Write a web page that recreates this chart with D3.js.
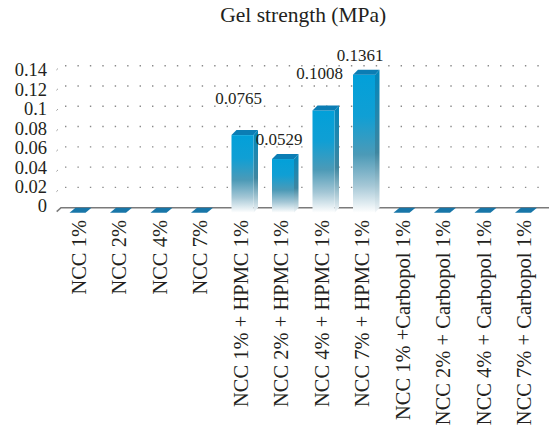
<!DOCTYPE html>
<html>
<head>
<meta charset="utf-8">
<script src="https://cdn.jsdelivr.net/npm/d3@7/dist/d3.min.js"></script>
<style>
  html, body { margin: 0; padding: 0; background: #fff; }
  svg { display: block; }
  text { font-family: "Liberation Serif", "Times New Roman", serif; fill: #231f20; }
</style>
</head>
<body>
<svg id="chart" width="549" height="432"></svg>
<script>
// Gel strength of the NCC formulations (MPa)
const categories = [
  "NCC 1%", "NCC 2%", "NCC 4%", "NCC 7%",
  "NCC 1% + HPMC 1%", "NCC 2% + HPMC 1%", "NCC 4% + HPMC 1%", "NCC 7% + HPMC 1%",
  "NCC 1% +Carbopol 1%", "NCC 2% + Carbopol 1%", "NCC 4% + Carbopol 1%", "NCC 7% + Carbopol 1%"
];
const gelStrength = [0, 0, 0, 0, 0.0765, 0.0529, 0.1008, 0.1361, 0, 0, 0, 0];
const valueLabels = ["", "", "", "", "0.0765", "0.0529", "0.1008", "0.1361", "", "", "", ""];
const yTicks = [0, 0.02, 0.04, 0.06, 0.08, 0.1, 0.12, 0.14];
const yTickLabels = ["0", "0.02", "0.04", "0.06", "0.08", "0.1", "0.12", "0.14"];
const chartTitle = "Gel strength (MPa)";

const W = 549, H = 432;
const svg = d3.select("#chart");

// back wall (grid plane) and depth offset of the pseudo-3D bars
const x = d3.scaleBand().domain(categories).range([60.25, 546.25]);
const y = d3.scaleLinear().domain([0, 0.14]).range([207.7, 65.7]);
const yLabel = d3.scaleLinear().domain([0, 0.14]).range([206, 70]);
const depthX = 5, depthY = 5;
const half = 11;

// gradient for the bar fronts
const defs = svg.append("defs");
const grad = defs.append("linearGradient").attr("id", "barFront")
  .attr("x1", 0).attr("y1", 0).attr("x2", 0).attr("y2", 1);
[["0%", "#02a0d9"], ["30%", "#109fd4"], ["58%", "#4c9ab7"], ["80%", "#a3c6d5"], ["100%", "#ffffff"]]
  .forEach(([o, c]) => grad.append("stop").attr("offset", o).attr("stop-color", c));
const gradSide = defs.append("linearGradient").attr("id", "barSide")
  .attr("x1", 0).attr("y1", 0).attr("x2", 0).attr("y2", 1);
[["0%", "#0186bb"], ["58%", "#3f86a0"], ["100%", "#f4f7f9"]]
  .forEach(([o, c]) => gradSide.append("stop").attr("offset", o).attr("stop-color", c));

// title
svg.append("text")
  .attr("x", (x.range()[0] + x.range()[1]) / 2)
  .attr("y", 22)
  .attr("text-anchor", "middle")
  .style("font-size", "21.5px")
  .text(chartTitle);

// dotted grid lines on the back wall
const grid = svg.append("g");
yTicks.filter(t => t > 0).forEach(t => {
  grid.append("line")
    .attr("x1", 65).attr("x2", W)
    .attr("y1", y(t)).attr("y2", y(t))
    .attr("stroke", "#8a8a8a")
    .attr("stroke-width", 1.4)
    .attr("stroke-dasharray", "1.4,11.03");
  // small mark on the left wall edge
  grid.append("line")
    .attr("x1", 56.5).attr("x2", 57.8)
    .attr("y1", y(t) + 4.2).attr("y2", y(t) + 3)
    .attr("stroke", "#8a8a8a").attr("stroke-width", 1);
});

// floor line
svg.append("path")
  .attr("d", `M56.7,${y(0) + 4}L${61},${y(0)}H${W}`)
  .attr("fill", "none")
  .attr("stroke", "#7a7a7a")
  .attr("stroke-width", 1.6);

// y tick labels
svg.append("g").selectAll("text")
  .data(yTicks)
  .join("text")
  .attr("x", 47)
  .attr("y", d => yLabel(d))
  .attr("dy", "0.35em")
  .attr("text-anchor", "end")
  .style("font-size", "18.5px")
  .text((d, i) => yTickLabels[i]);

// bars
const bars = svg.append("g");
categories.forEach((c, i) => {
  const v = gelStrength[i];
  const cx = x(c) + x.bandwidth() / 2;
  if (v === 0) {
    // flat slab lying on the floor
    const yb = y(0);
    bars.append("path")
      .attr("d", `M${cx - 11},${yb + 5}L${cx - 5},${yb}L${cx + 11},${yb}L${cx + 5},${yb + 5}Z`)
      .attr("fill", "#1876a8");
    return;
  }
  const yBackTop = y(v);
  const yFrontTop = yBackTop + depthY;
  const yBottom = y(0) + 5;
  // side face
  bars.append("path")
    .attr("d", `M${cx + half},${yFrontTop}L${cx + half + depthX - 0.5},${yBackTop}L${cx + half + depthX - 0.5},${y(0)}L${cx + half},${yBottom}Z`)
    .attr("fill", "url(#barSide)");
  // front face
  bars.append("rect")
    .attr("x", cx - half)
    .attr("y", yFrontTop)
    .attr("width", half * 2)
    .attr("height", yBottom - yFrontTop)
    .attr("fill", "url(#barFront)");
  // top face
  bars.append("path")
    .attr("d", `M${cx - half},${yFrontTop}L${cx - half + depthX},${yBackTop}L${cx + half + depthX - 0.5},${yBackTop}L${cx + half},${yFrontTop}Z`)
    .attr("fill", "#0b7db4");
});

// value labels above the non-zero bars, alternately raised to keep them apart
let k = 0;
categories.forEach((c, i) => {
  const v = gelStrength[i];
  if (v === 0) return;
  const cx = x(c) + x.bandwidth() / 2;
  const lift = k % 2 === 0 ? 26 : 9;
  k++;
  svg.append("text")
    .attr("x", cx - 4)
    .attr("y", y(v) - lift)
    .attr("text-anchor", "middle")
    .style("font-size", "17px")
    .text(valueLabels[i]);
});

// rotated category labels
svg.append("g").selectAll("text")
  .data(categories)
  .join("text")
  .attr("transform", d => `translate(${x(d) + x.bandwidth() / 2 - 2},220) rotate(-90)`)
  .attr("dy", "0.35em")
  .attr("text-anchor", "end")
  .style("font-size", "20.5px")
  .text(d => d);
</script>
</body>
</html>
